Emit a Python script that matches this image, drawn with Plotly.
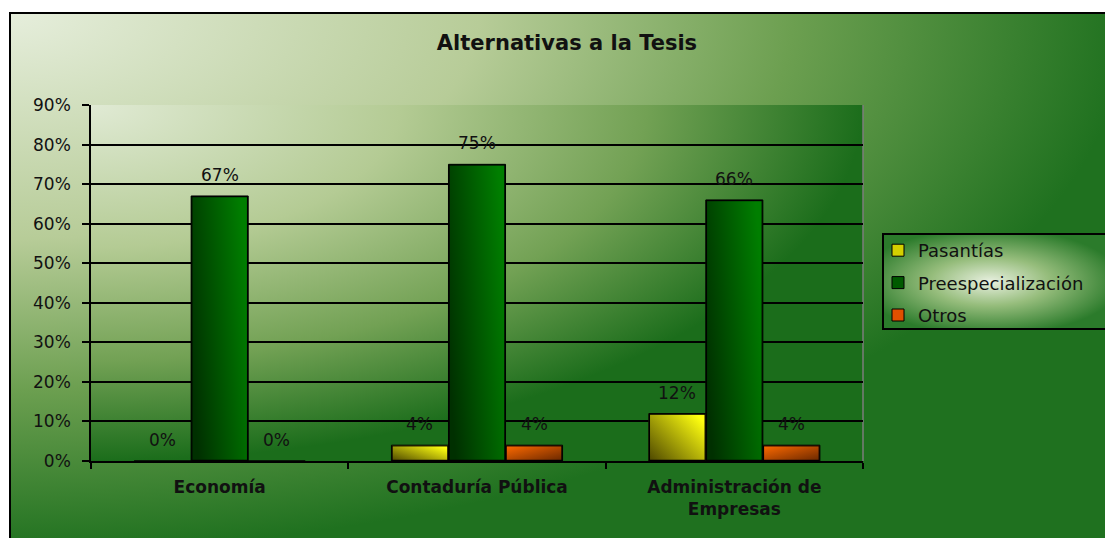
import base64
import plotly.graph_objects as go

# ---------------- data ----------------
categories = ["Economía", "Contaduría Pública", "Administración de<br>Empresas"]
series_names = ["Pasantías", "Preespecialización", "Otros"]
pasantias = [0, 4, 12]
preespecializacion = [67, 75, 66]
otros = [0, 4, 4]
y_tick_values = [0, 10, 20, 30, 40, 50, 60, 70, 80, 90]
y_tick_labels = ["0%", "10%", "20%", "30%", "40%", "50%", "60%", "70%", "80%", "90%"]
title_text = "Alternativas a la Tesis"

series_values = [pasantias, preespecializacion, otros]

# ---------------- styling / layout ----------------
# the page body adds an 8px margin, so the figure is laid out 8px smaller
W, H = 1105, 530
L, R, T, B = 83, 855, 97, 453
PW, PH = R - L, B - T
Y_MAX = 90
BARGAP = 0.335
FONT = "DejaVu Sans"

legend_colors = ["#d4d000", "#005a00", "#e05000"]
# (stops, x1, y1, x2, y2)
bar_gradients = [
    ([("0", "#4e4800"), ("1", "#ffff10")], 0, 1, 1, 0.2),
    ([("0", "#003000"), ("1", "#007e00")], 0, 0.7, 1, 0.3),
    ([("0", "#ff6a00"), ("1", "#6a2800")], 0, 0, 1, 1),
]


def uri(svg):
    return "data:image/svg+xml;base64," + base64.b64encode(svg.encode("utf-8")).decode()


def radial_svg(w, h, stops, cx, cy, r, stroke=None, sw=0):
    st = "".join(f'<stop offset="{o}" stop-color="{c}"/>' for o, c in stops)
    rect = f'<rect x="0" y="0" width="{w}" height="{h}" fill="url(#g)"/>'
    if stroke:
        rect += (f'<rect x="{sw/2}" y="{sw/2}" width="{w - sw}" height="{h - sw}" '
                 f'fill="none" stroke="{stroke}" stroke-width="{sw}"/>')
    return (f'<svg xmlns="http://www.w3.org/2000/svg" width="{w}" height="{h}" '
            f'viewBox="0 0 {w} {h}" preserveAspectRatio="none"><defs>'
            f'<radialGradient id="g" cx="{cx}" cy="{cy}" r="{r}">{st}</radialGradient>'
            f'</defs>{rect}</svg>')


def linear_svg(w, h, grad):
    stops, x1, y1, x2, y2 = grad
    st = "".join(f'<stop offset="{o}" stop-color="{c}"/>' for o, c in stops)
    return (f'<svg xmlns="http://www.w3.org/2000/svg" width="{w}" height="{h}" '
            f'viewBox="0 0 {w} {h}" preserveAspectRatio="none"><defs>'
            f'<linearGradient id="g" x1="{x1}" y1="{y1}" x2="{x2}" y2="{y2}">{st}</linearGradient>'
            f'</defs><rect x="0.6" y="0.6" width="{w - 1.2}" height="{h - 1.2}" fill="url(#g)" '
            f'stroke="#000" stroke-width="1.3"/></svg>')


def px_x(x):
    return (x - L) / PW


def px_y(y):
    return (B - y) / PH


images = []
# outer chart area
ox, oy, ow, oh = 1, 4, 1120, 540
images.append(dict(
    source=uri(radial_svg(ow, oh, [(0, "#e6eedc"), (0.42, "#b7cc98"), (0.7, "#6c9f50"), (1, "#1f711f")],
                          0, 0, 1, stroke="#000", sw=2)),
    xref="paper", yref="paper", x=px_x(ox), y=px_y(oy), sizex=ow / PW, sizey=oh / PH,
    xanchor="left", yanchor="top", sizing="stretch", layer="below"))
# plot area
images.append(dict(
    source=uri(radial_svg(PW, PH, [(0, "#e0ead4"), (0.4, "#b4cb94"), (0.72, "#72a154"), (1, "#1b6d1b")],
                          0, 0, 1)),
    xref="paper", yref="paper", x=0, y=1, sizex=1, sizey=1,
    xanchor="left", yanchor="top", sizing="stretch", layer="below"))
# legend box
lx, ly, lw, lh = 874, 225, 240, 97
images.append(dict(
    source=uri(radial_svg(lw, lh, [(0, "#e8f0e0"), (0.45, "#96bd7c"), (1, "#2b7b2b")],
                          0.45, 0.5, 0.55, stroke="#000", sw=2)),
    xref="paper", yref="paper", x=px_x(lx), y=px_y(ly), sizex=lw / PW, sizey=lh / PH,
    xanchor="left", yanchor="top", sizing="stretch", layer="below"))

# gradient overlays on the bars (positioned from the data via the axes)
n = len(series_values)
bw = (1 - BARGAP) / n
cat_px = PW / len(categories)
for si, vals in enumerate(series_values):
    for ci, v in enumerate(vals):
        if v <= 0:
            continue
        x0 = ci - (1 - BARGAP) / 2 + si * bw
        wpx = max(int(round(bw * cat_px)), 2)
        hpx = max(int(round(v / Y_MAX * PH)), 2)
        images.append(dict(
            source=uri(linear_svg(wpx, hpx, bar_gradients[si])),
            xref="x", yref="y", x=x0, y=v, sizex=bw, sizey=v,
            xanchor="left", yanchor="top", sizing="stretch", layer="above"))

fig = go.Figure()
for si, (name, vals) in enumerate(zip(series_names, series_values)):
    fig.add_trace(go.Bar(
        x=categories, y=vals, name=name, legendgroup=name,
        marker=dict(color=legend_colors[si], line=dict(color="#000", width=1)),
        hoverinfo="skip"))

annotations = []
for si, vals in enumerate(series_values):
    for ci, v in enumerate(vals):
        xc = ci - (1 - BARGAP) / 2 + (si + 0.5) * bw
        annotations.append(dict(
            x=xc, y=v, xref="x", yref="y", text=f"{v}%", showarrow=False,
            yanchor="middle", yshift=21,
            font=dict(family=FONT, size=17, color="#111")))

fig.update_layout(
    width=W, height=H,
    margin=dict(l=L, r=W - R, t=T, b=H - B, pad=0),
    paper_bgcolor="#ffffff", plot_bgcolor="rgba(0,0,0,0)",
    barmode="group", bargap=BARGAP, bargroupgap=0,
    title=dict(text=title_text, x=559 / W, xref="container", xanchor="center",
               y=1 - 35 / H, yref="container", yanchor="middle",
               font=dict(family=FONT, size=21, color="#111", weight="bold")),
    xaxis=dict(type="category", showgrid=False, showline=True, linecolor="#000", linewidth=1.5,
               ticks="outside", tickson="boundaries", ticklen=6, tickcolor="#000", tickwidth=1.5,
               ticklabelstandoff=10,
               tickfont=dict(family=FONT, size=17, color="#111", weight="bold")),
    yaxis=dict(range=[0, Y_MAX], tickmode="array", tickvals=y_tick_values, ticktext=y_tick_labels,
               showgrid=True, gridcolor="#000", gridwidth=1.5, zeroline=False,
               showline=True, linecolor="#000", linewidth=1.5,
               ticks="outside", ticklen=7, tickcolor="#000", tickwidth=1.5,
               ticklabelstandoff=8,
               tickfont=dict(family=FONT, size=17, color="#111")),
    legend=dict(xref="container", yref="container", x=870 / W, y=1 - 224 / H,
                xanchor="left", yanchor="top", bgcolor="rgba(0,0,0,0)", borderwidth=0,
                tracegroupgap=6, traceorder="grouped",
                font=dict(family=FONT, size=18, color="#111")),
    shapes=[dict(type="line", xref="paper", yref="paper", x0=1, x1=1, y0=0, y1=1,
                 line=dict(color="#7d7d7d", width=1.5), layer="below")],
    images=images,
    annotations=annotations,
    showlegend=True,
)

fig.write_html("out.html")
